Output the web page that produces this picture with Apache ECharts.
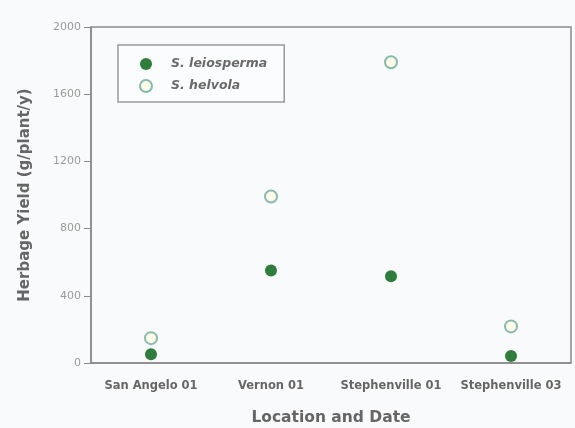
<!DOCTYPE html>
<html>
<head>
<meta charset="utf-8">
<script src="https://cdn.jsdelivr.net/npm/echarts@6/dist/echarts.min.js"></script>
<style>
html,body{margin:0;padding:0;background:#f9fafb;}
#c{width:575px;height:428px;}
</style>
</head>
<body>
<div id="c"></div>
<script>
const categories = ["San Angelo 01", "Vernon 01", "Stephenville 01", "Stephenville 03"];
const leiosperma = [52, 550, 516, 42];
const helvola = [148, 991, 1790, 218];
const yTicks = [0, 400, 800, 1200, 1600, 2000];

const chart = echarts.init(document.getElementById('c'), null, {renderer: 'canvas'});
const axisGray = '#8a8a8a';
chart.setOption({
  backgroundColor: '#f9fafb',
  animation: false,
  grid: {left: 91, top: 27, right: 4, bottom: 65, outerBoundsMode: 'none', containLabel: false,
    show: true, borderColor: axisGray, borderWidth: 1.5, backgroundColor: 'transparent'},
  legend: {
    orient: 'vertical', left: 118, top: 45,
    backgroundColor: '#fbfcfd',
    borderColor: '#9a9a9a', borderWidth: 1.5, borderRadius: 0,
    padding: [12, 17, 9, 21],
    itemWidth: 12, itemHeight: 12, itemGap: 8,
    textStyle: {fontFamily: 'DejaVu Sans', fontWeight: 'bold', fontStyle: 'italic', fontSize: 12.5, lineHeight: 14, color: '#6a6a6a', padding: [0, 0, 0, 14]},
    data: [
      {name: 'S. leiosperma', icon: 'circle'},
      {name: 'S. helvola', icon: 'circle'}
    ]
  },
  xAxis: {
    type: 'category', data: categories, boundaryGap: true,
    name: 'Location and Date', nameLocation: 'middle', nameGap: 47,
    nameTextStyle: {fontFamily: 'DejaVu Sans', fontWeight: 'bold', fontSize: 15.5, color: '#666'},
    axisLine: {lineStyle: {color: axisGray, width: 1.5}},
    axisTick: {alignWithLabel: true, length: 5, lineStyle: {color: axisGray}},
    axisLabel: {fontFamily: 'DejaVu Sans', fontWeight: 'bold', fontSize: 11.5, color: '#666', margin: 17, interval: 0}
  },
  yAxis: {
    type: 'value', min: 0, max: 2000, interval: 400,
    name: 'Herbage Yield (g/plant/y)', nameLocation: 'middle', nameGap: 58,
    nameTextStyle: {fontFamily: 'DejaVu Sans', fontWeight: 'bold', fontSize: 15, color: '#666'},
    axisLine: {show: true, lineStyle: {color: axisGray, width: 1.5}},
    axisTick: {show: true, length: 7, lineStyle: {color: axisGray}},
    splitLine: {show: false},
    axisLabel: {fontFamily: 'DejaVu Sans', fontSize: 11, color: '#9a9a9a', margin: 10,
      formatter: v => yTicks.includes(v) ? String(v) : ''}
  },
  series: [
    {
      name: 'S. leiosperma', type: 'scatter', data: leiosperma, symbol: 'circle', symbolSize: 12,
      itemStyle: {color: '#2e7d3a', opacity: 1}
    },
    {
      name: 'S. helvola', type: 'scatter', data: helvola, symbol: 'circle', symbolSize: 12,
      itemStyle: {color: '#fffbe6', borderColor: '#86bcb0', borderWidth: 2, opacity: 1}
    }
  ]
});
</script>
</body>
</html>
